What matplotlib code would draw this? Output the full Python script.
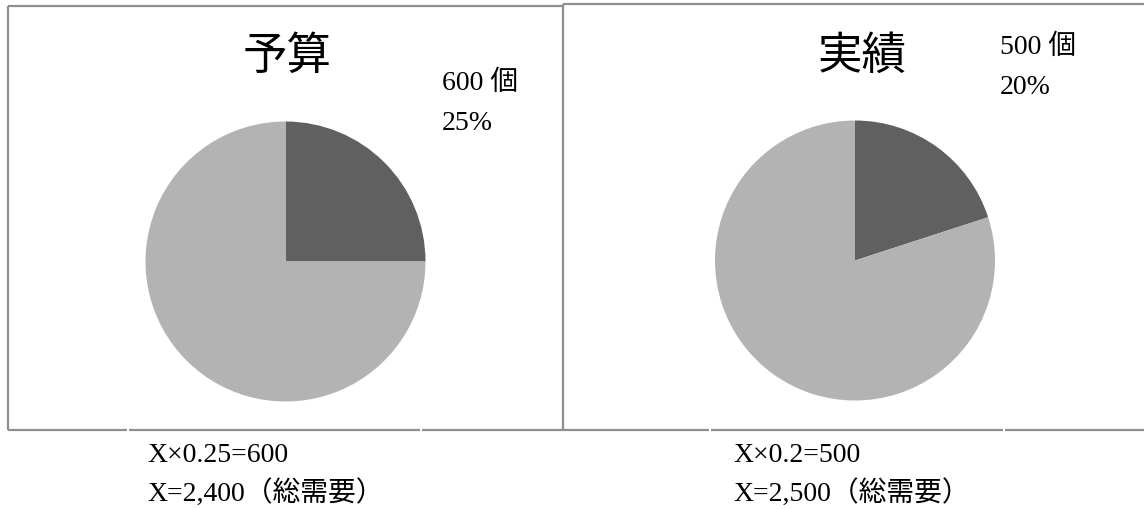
"""Budget vs. actual share pies with the demand calculation underneath."""

import matplotlib

matplotlib.use("Agg")
import matplotlib.pyplot as plt
from matplotlib.lines import Line2D

W, H = 1144, 510
DPI = 100

plt.rcParams["font.family"] = ["Liberation Serif", "Noto Sans CJK JP"]

titles = ["予算", "実績"]
units = [600, 500]              # 個
total_demand = [2400, 2500]     # X (総需要)
shares = [u / t for u, t in zip(units, total_demand)]

DARK = "#606060"
LIGHT = "#b3b3b3"
FRAME = "#8f8f8f"

# pie centre (px from left, px from top) and radius, per panel
centres = [(285.5, 262.5), (855.0, 261.5)]
radius = 140.0
title_x = [287, 862]
note_x = [442, 1000]
note_top = [75, 39]


def fx(px):
    return px / W


def fy(py):
    return 1 - py / H


fig = plt.figure(figsize=(W / DPI, H / DPI), dpi=DPI)

for i, title in enumerate(titles):
    cx, cy = centres[i]
    ax = fig.add_axes([fx(cx - radius), fy(cy + radius), 2 * radius / W, 2 * radius / H])
    ax.pie([shares[i], 1 - shares[i]], colors=[DARK, LIGHT], startangle=90,
           counterclock=False, radius=1, wedgeprops={"linewidth": 0})
    ax.set_xlim(-1, 1)
    ax.set_ylim(-1, 1)
    ax.set_axis_off()

    fig.text(fx(title_x[i]), fy(57), title, fontsize=32, ha="center", va="center")
    fig.text(fx(note_x[i]), fy(note_top[i] - 5), f"{units[i]} 個", fontsize=20,
             ha="left", va="top")
    fig.text(fx(note_x[i]), fy(note_top[i] + 36), f"{shares[i]:.0%}", fontsize=20,
             ha="left", va="top")

    x0 = [147, 733][i]
    fig.text(fx(x0), fy(455), f"X×{shares[i]:g}={units[i]}", fontsize=20,
             ha="left", va="center")
    fig.text(fx(x0), fy(493), f"X={total_demand[i]:,}（総需要）", fontsize=20,
             ha="left", va="center")

# frames around the two panels and the table rule below them
segments = [
    ((7.5, 7.5), (7, 431)),
    ((7.5, 562.5), (7, 7)),
    ((562.5, 562.5), (5, 431)),
    ((562.5, W), (5, 5)),
    ((7.5, 127), (431, 431)),
    ((129, 420), (431, 431)),
    ((422, 709), (431, 431)),
    ((711, 1003), (431, 431)),
    ((1005, W), (431, 431)),
]
for xs, ys in segments:
    fig.add_artist(Line2D([fx(x) for x in xs], [fy(y) for y in ys],
                          color=FRAME, linewidth=1.6, solid_capstyle="butt"))

fig.savefig("out.png", dpi=DPI)
plt.close(fig)
